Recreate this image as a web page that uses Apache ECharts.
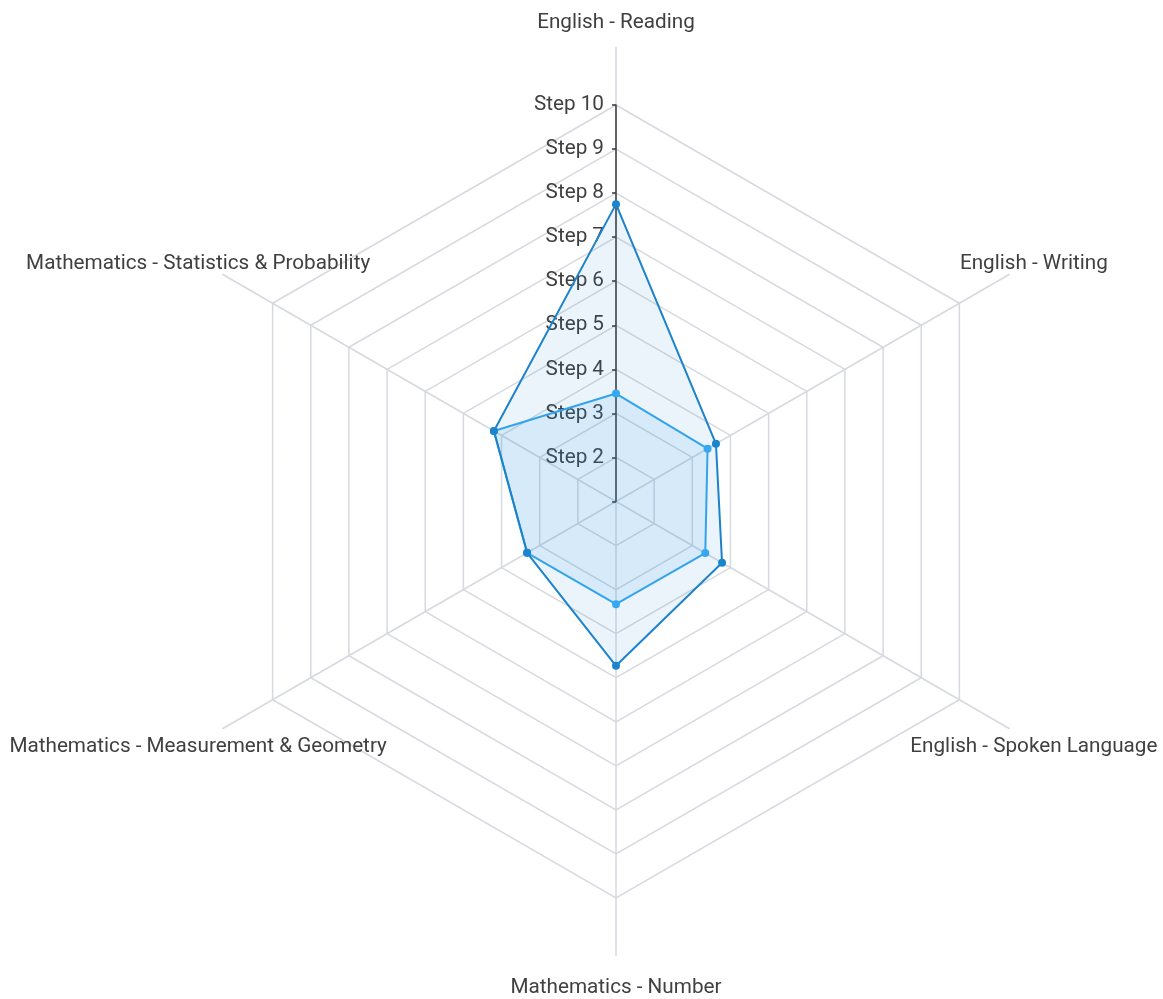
<!DOCTYPE html>
<html>
<head>
<meta charset="utf-8">
<script src="https://cdn.jsdelivr.net/npm/echarts@6/dist/echarts.min.js"></script>
<style>
  html, body { margin: 0; padding: 0; background: #fff; }
  #chart { width: 1163px; height: 999px; }
</style>
</head>
<body>
<div id="chart"></div>
<script>
// indicator order as echarts walks them (top, then counter-clockwise)
var categories = [
  'English - Reading',
  'Mathematics - Statistics & Probability',
  'Mathematics - Measurement & Geometry',
  'Mathematics - Number',
  'English - Spoken Language',
  'English - Writing'
]
var seriesNames = ['Series 1', 'Series 2']
var darkValues = [7.75, 4.2, 3.33, 4.73, 3.78, 3.62]
var lightValues = [3.45, 4.2, 3.33, 3.33, 3.34, 3.4]
var stepMin = 1
var stepMax = 10

var gridColor = '#d6d9df'
var textColor = '#404040'
var fontSize = 20.7
var center = [616, 501.5]

var chart = echarts.init(document.getElementById('chart'))

// long spokes only
var spokeIndicators = categories.map(function (name) {
  return { name: name, min: 0, max: 1 }
})

// inner radar: rings, step labels and the data
var innerIndicators = categories.map(function (name, i) {
  var ind = { name: name, min: stepMin, max: stepMax }
  if (i === 0) {
    ind.axisLine = { show: true, lineStyle: { color: '#3a3a3a', width: 1.5 } }
    ind.axisTick = { show: true, length: 4, lineStyle: { color: '#3a3a3a', width: 1.5 } }
    ind.axisLabel = {
      show: true,
      margin: 12,
      color: textColor,
      fontSize: fontSize,
      fontFamily: 'Roboto',
      formatter: function (v) {
        return v === stepMin ? '' : 'Step ' + v
      }
    }
  }
  return ind
})

var option = {
  backgroundColor: '#ffffff',
  radar: [
    {
      center: center,
      radius: 454,
      splitNumber: 1,
      indicator: spokeIndicators,
      axisName: { show: false },
      axisLine: { lineStyle: { color: gridColor, width: 1.5 } },
      splitLine: { show: false },
      splitArea: { show: false }
    },
    {
      // names only, sits a few px lower like the original
      center: [center[0], center[1] + 4],
      radius: 454,
      splitNumber: 1,
      indicator: spokeIndicators,
      nameGap: 28.5,
      axisName: {
        color: textColor,
        fontSize: fontSize,
        fontFamily: 'Roboto',
        align: 'center',
        verticalAlign: 'middle'
      },
      axisLine: { show: false },
      splitLine: { show: false },
      splitArea: { show: false }
    },
    {
      center: center,
      radius: 396.5,
      splitNumber: stepMax - stepMin,
      indicator: innerIndicators,
      axisName: { show: false },
      axisLine: { show: false },
      axisTick: { show: false },
      axisLabel: { show: false },
      splitLine: { lineStyle: { color: gridColor, width: 1.5 } },
      splitArea: { show: false }
    }
  ],
  series: [
    {
      type: 'radar',
      radarIndex: 2,
      symbol: 'circle',
      symbolSize: 8,
      data: [
        {
          name: seriesNames[1],
          value: lightValues,
          lineStyle: { color: '#37a8ef', width: 2 },
          itemStyle: { color: '#37a8ef' },
          areaStyle: { color: 'rgba(55,168,239,0.16)' }
        }
      ]
    },
    {
      type: 'radar',
      radarIndex: 2,
      symbol: 'circle',
      symbolSize: 8,
      data: [
        {
          name: seriesNames[0],
          value: darkValues,
          lineStyle: { color: '#1c84cc', width: 2 },
          itemStyle: { color: '#1c84cc' },
          areaStyle: { color: 'rgba(28,132,204,0.12)' }
        }
      ]
    }
  ]
}

chart.setOption(option)
</script>
</body>
</html>
